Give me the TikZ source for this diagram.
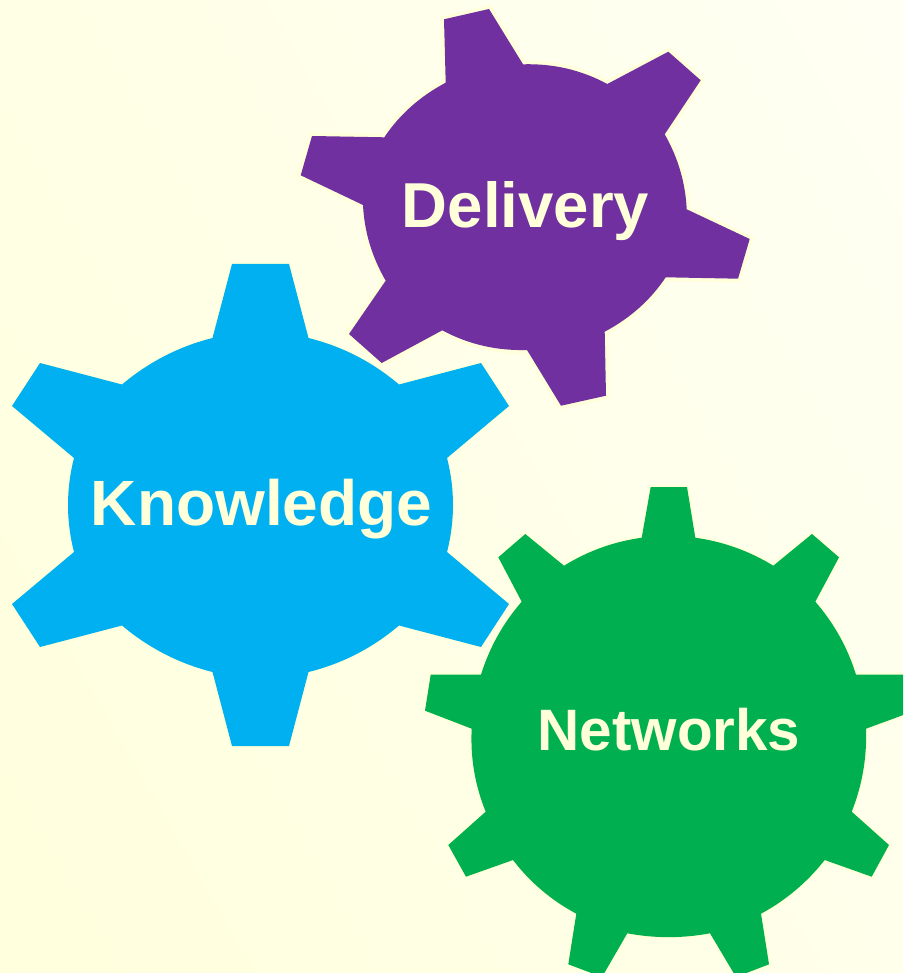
\documentclass[tikz,border=0pt]{standalone}
\usepackage{fontspec}
\usetikzlibrary{calc}
\setmainfont{Liberation Sans}
\definecolor{cream}{HTML}{FFFFDA}
\definecolor{bgtop}{HTML}{FFFFF4}
\definecolor{bgmid}{HTML}{FFFFE0}
\definecolor{bgbot}{HTML}{FFFFDC}
\definecolor{gearblue}{HTML}{00B0F0}
\definecolor{gearpurple}{HTML}{7030A0}
\definecolor{geargreen}{HTML}{00AF50}
\tikzset{
  gearshape/.style n args={2}{fill=#1, preaction={draw=cream, line width=#2, line join=miter}},
  gearlabel/.style={anchor=base, text=cream, font=\bfseries\fontsize{#1}{#1}\selectfont, inner sep=0pt},
  % quadratic bow from the current point p through control c to q
  bowto/.style n args={3}{insert path={.. controls ($(#1)!.6667!(#2)$) and ($(#3)!.6667!(#2)$) .. (#3)}}
}
\begin{document}
\begin{tikzpicture}[x=1pt,y=-1pt]
\useasboundingbox (0,0) rectangle (903,973);
\clip (0,0) rectangle (903,973);
\shade[left color=bgtop, middle color=bgmid, right color=bgbot, shading angle=-60] (-200,-200) rectangle (1103,1173);
% Knowledge gear
\path[gearshape={gearblue}{3.5}]
  (232,264) -- (289,264) -- (308.5,338) [bowto={308.5,338}{359.2,350.6}{399,384.5}]
  -- (481,363) -- (509,406) -- (447,458) [bowto={447,458}{459,505}{447,552}]
  -- (509,604) -- (481,647) -- (399,625.5) [bowto={399,625.5}{359.2,659.4}{308.5,672}]
  -- (289,746) -- (232,746) -- (212.5,672) [bowto={212.5,672}{162.3,659.4}{122,625.5}]
  -- (40,647) -- (12,604) -- (74,552) [bowto={74,552}{62,505}{74,458}]
  -- (12,406) -- (40,363) -- (122,384.5) [bowto={122,384.5}{162.3,350.6}{212.5,338}] -- cycle;
% Delivery gear
\path[gearshape={gearpurple}{7}]
  (444,19.3) -- (489,9) -- (523,64.3) [bowto={523,64.3}{568.5,63}{607.3,84}]
  -- (668.3,51.7) -- (700.7,80.3) -- (664.7,134.3) [bowto={664.7,134.3}{684.8,169.6}{686.7,209.3}]
  -- (749.7,239) -- (738,278.7) -- (665.7,277.3) [bowto={665.7,277.3}{643,311.3}{604.7,331.7}]
  -- (606,395.7) -- (561,405.7) -- (527,350) [bowto={527,350}{481.2,351.3}{442.3,330.3}]
  -- (381.7,363) -- (349,334) -- (385.7,280.7) [bowto={385.7,280.7}{365,245}{363,205}]
  -- (300.7,175.3) -- (312,136) -- (384.3,137.3) [bowto={384.3,137.3}{407.2,103.1}{445.7,82.7}] -- cycle;
% Networks gear
\path[gearshape={geargreen}{4}]
  (650.7,487) -- (687,487) -- (695.3,537.7) [bowto={695.3,537.7}{737.2,543.6}{773.3,565.7}]
  -- (812,534) -- (839,557.3) -- (815.3,601.7) [bowto={815.3,601.7}{843.3,633.9}{856,674.7}]
  -- (925,674.7) -- (925,707) -- (866,728.7) [bowto={866,728.7}{867.5,771.9}{851.7,811.7}]
  -- (889,845) -- (871.7,876.7) -- (824.7,860) [bowto={824.7,860}{798.3,893.5}{761,913.7}]
  -- (769,964.3) -- (736,977) -- (710,933.3) [bowto={710,933.3}{668.5,941}{627.3,933.3}]
  -- (602,977) -- (568.3,964.3) -- (576.3,913.7) [bowto={576.3,913.7}{538.7,893.5}{513,860}]
  -- (466,876.7) -- (448.3,845) -- (485.7,811.7) [bowto={485.7,811.7}{469.5,771.9}{471.7,728.7}]
  -- (425,710.7) -- (430.7,674.7) -- (481,674.7) [bowto={481,674.7}{493.7,633.9}{521.7,601.7}]
  -- (498.3,557.3) -- (525.3,534) -- (564,565.7) [bowto={564,565.7}{599.8,543.6}{641.7,537.7}] -- cycle;
% Labels
\node[gearlabel=64] (knowledge) at (261.5,525.7) {Knowledge};
\node[gearlabel=63.5] (delivery) at (525.5,227.7) {Delivery};
\node[gearlabel=58.4] (networks) at (669,750.7) {Networks};
\end{tikzpicture}
\end{document}
